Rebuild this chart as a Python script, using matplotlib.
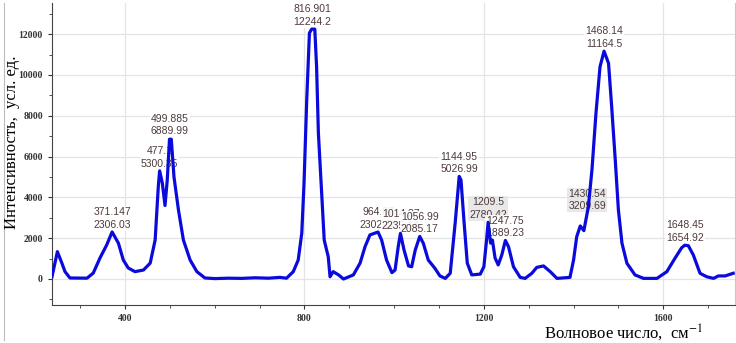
import numpy as np
import matplotlib
matplotlib.use('Agg')
import matplotlib.pyplot as plt
from matplotlib.ticker import MultipleLocator
from matplotlib.lines import Line2D

plt.rcParams['mathtext.fontset'] = 'stix'

# спектр (волновое число, интенсивность)
wn = [237, 249, 259, 266, 277, 315, 329, 344, 359, 371, 385, 396, 407, 422, 441,
      456, 467, 474, 477, 483, 489, 494, 499, 503, 509, 519, 530, 545, 560, 578,
      600, 630, 660, 690, 720, 745, 760, 775, 786, 794, 799, 805, 811, 816, 823,
      827, 831, 839, 844, 853, 857, 864, 876, 887, 909, 924, 935, 946, 964, 972,
      983, 995, 1002, 1009, 1014, 1022, 1032, 1039, 1047, 1057, 1065, 1076, 1091,
      1102, 1114, 1125, 1136, 1145, 1149, 1156, 1163, 1173, 1192, 1200, 1206,
      1209.5, 1215, 1219, 1225, 1232, 1240, 1248, 1255, 1266, 1281, 1292, 1307,
      1318, 1333, 1348, 1363, 1392, 1400, 1407, 1415, 1423, 1433, 1441, 1450,
      1459, 1468, 1478, 1485, 1493, 1500, 1508, 1519, 1537, 1556, 1586, 1608,
      1626, 1641, 1648, 1656, 1667, 1682, 1697, 1712, 1723, 1738, 1756]
inten = [110, 1340, 780, 360, 50, 40, 290, 1030, 1670, 2306, 1760, 930, 540, 360,
         440, 780, 1910, 4520, 5300, 4700, 3600, 4850, 6850, 6850, 5000, 3380,
         1910, 930, 360, 50, 20, 40, 30, 60, 40, 80, 40, 360, 930, 2250, 4700,
         8770, 12050, 12244, 12244, 10400, 7150, 3870, 1910, 1090, 110, 360, 200,
         0, 200, 780, 1580, 2160, 2302, 1910, 930, 310, 440, 1580, 2235, 1420,
         640, 600, 1420, 2085, 1750, 930, 520, 150, 30, 280, 2740, 5027, 4850,
         2740, 780, 200, 240, 600, 1910, 2780, 1760, 1910, 1030, 690, 1180, 1889,
         1580, 600, 80, 30, 280, 570, 640, 360, 30, 80, 930, 2070, 2600, 2370,
         3540, 5340, 8130, 10400, 11164, 10570, 8440, 5830, 3380, 1750, 770, 200,
         30, 30, 360, 1010, 1530, 1655, 1630, 1180, 280, 110, 30, 150, 150, 280]

# подписи пиков
peak_x = [371.147, 477.1, 499.885, 816.901, 964.07, 1014.37, 1056.99, 1144.95,
          1209.5, 1247.75, 1430.54, 1468.14, 1648.45]
peak_y = [2306.03, 5300.35, 6889.99, 12244.2, 2302.58, 2235.14, 2085.17, 5026.99,
          2780.42, 1889.23, 3209.69, 11164.5, 1654.92]
peak_txt = ['371.147\n2306.03', '477.1\n5300.35', '499.885\n6889.99',
            '816.901\n12244.2', '964.07\n2302.58', '1014.37\n2235.14',
            '1056.99\n2085.17', '1144.95\n5026.99', '1209.5\n2780.42',
            '1247.75\n1889.23', '1430.54\n3209.69', '1468.14\n11164.5',
            '1648.45\n1654.92']
peak_bg = ['white', 'white', 'white', 'white', 'white', 'white', 'white', 'white',
           '#e6e6e6', 'white', '#e6e6e6', 'white', 'white']

fig = plt.figure(figsize=(7.36, 3.43), dpi=100)
ax = fig.add_axes([52 / 736, 1 - 305 / 343, 683 / 736, 302 / 343])

ax.plot(wn, inten, color='#0a0adc', lw=2.3, solid_joinstyle='round', zorder=5)

for x, y, t, bg in zip(peak_x, peak_y, peak_txt, peak_bg):
    ax.annotate(t, (x, y), xytext=(0, 1.5), textcoords='offset points',
                ha='center', va='bottom', fontsize=7.5, family='Liberation Sans',
                color='#4e3a3a', linespacing=1.35, zorder=4,
                bbox=dict(boxstyle='square,pad=0.1', fc=bg, ec='none', alpha=0.9))

ax.set_xlim(237, 1760)
ax.set_ylim(-1274, 13524)
ax.xaxis.set_major_locator(MultipleLocator(400))
ax.xaxis.set_minor_locator(MultipleLocator(100))
ax.yaxis.set_major_locator(MultipleLocator(2000))
ax.yaxis.set_minor_locator(MultipleLocator(1000))
ax.grid(True, which='major', color='#e4e4e4', lw=0.9, zorder=0)
ax.tick_params(which='both', direction='out', colors='#333333', labelsize=7)
ax.tick_params(which='major', length=3, width=0.8)
ax.tick_params(which='minor', length=2, width=0.6)
for lab in ax.get_xticklabels() + ax.get_yticklabels():
    lab.set_family('Liberation Serif')
    lab.set_fontweight('bold')
ax.spines['top'].set_visible(False)
ax.spines['right'].set_color('#c8c8c8')
ax.spines['left'].set_color('#444444')
ax.spines['bottom'].set_color('#444444')

fig.text(12 / 736, 1 - 142 / 343, 'Интенсивность,  усл. ед.', rotation=90,
         ha='center', va='center', fontsize=12, family='Liberation Serif')
fig.text(624 / 736, 1 - 333 / 343, 'Волновое число,  см$^{-1}$', ha='center',
         va='center', fontsize=12, family='Liberation Serif')

fig.add_artist(Line2D([4 / 736, 4 / 736], [0.01, 0.99], color='#bbbbbb', lw=0.8))

fig.savefig('out.png', dpi=100)
